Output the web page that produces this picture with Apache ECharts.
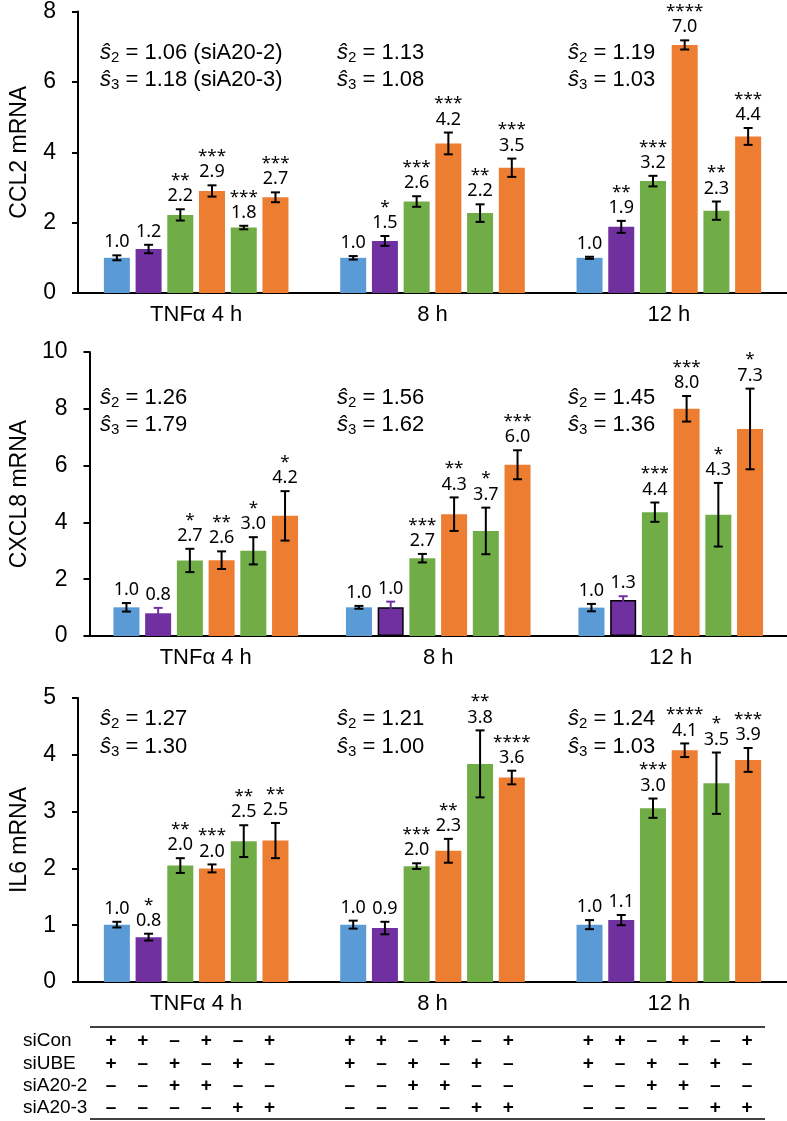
<!DOCTYPE html>
<html>
<head>
<meta charset="utf-8">
<script src="https://cdn.jsdelivr.net/npm/echarts@6/dist/echarts.min.js"></script>
<style>
  html, body { margin: 0; padding: 0; background: #fff; }
  #chart { width: 787px; height: 1121px; }
</style>
</head>
<body>
<div id="chart"></div>
<script>
// categories
const groups = ["TNFα 4 h", "8 h", "12 h"];
const conditions = ["siCon+siUBE", "siCon", "siUBE+siA20-2", "siCon+siA20-2", "siUBE+siA20-3", "siCon+siA20-3"];
const tableRows = ["siCon", "siUBE", "siA20-2", "siA20-3"];
const tableSigns = [
  ["+", "+", "–", "+", "–", "+"],
  ["+", "–", "+", "–", "+", "–"],
  ["–", "–", "+", "+", "–", "–"],
  ["–", "–", "–", "–", "+", "+"],
];

// CCL2 (rows = time point, cols = condition)
const ccl2Mean = [
  [1.00, 1.25, 2.22, 2.90, 1.86, 2.72],
  [1.00, 1.48, 2.60, 4.25, 2.27, 3.56],
  [1.00, 1.88, 3.18, 7.05, 2.34, 4.45],
];
const ccl2Err = [
  [0.07, 0.12, 0.16, 0.16, 0.05, 0.14],
  [0.05, 0.14, 0.15, 0.31, 0.25, 0.26],
  [0.03, 0.17, 0.15, 0.13, 0.26, 0.24],
];
const ccl2Text = [
  ["1.0", "1.2", "2.2", "2.9", "1.8", "2.7"],
  ["1.0", "1.5", "2.6", "4.2", "2.2", "3.5"],
  ["1.0", "1.9", "3.2", "7.0", "2.3", "4.4"],
];
const ccl2Stars = [
  ["", "", "**", "***", "***", "***"],
  ["", "*", "***", "***", "**", "***"],
  ["", "**", "***", "****", "**", "***"],
];
const ccl2S2 = ["1.06 (siA20-2)", "1.13", "1.19"];
const ccl2S3 = ["1.18 (siA20-3)", "1.08", "1.03"];

// CXCL8
const cxcl8Mean = [
  [1.01, 0.80, 2.66, 2.67, 3.00, 4.23],
  [1.01, 1.01, 2.74, 4.29, 3.70, 6.03],
  [1.00, 1.27, 4.36, 8.00, 4.27, 7.29],
];
const cxcl8Err = [
  [0.15, 0.19, 0.41, 0.31, 0.48, 0.87],
  [0.05, 0.20, 0.15, 0.59, 0.82, 0.51],
  [0.13, 0.13, 0.34, 0.45, 1.12, 1.42],
];
const cxcl8Text = [
  ["1.0", "0.8", "2.7", "2.6", "3.0", "4.2"],
  ["1.0", "1.0", "2.7", "4.3", "3.7", "6.0"],
  ["1.0", "1.3", "4.4", "8.0", "4.3", "7.3"],
];
const cxcl8Stars = [
  ["", "", "*", "**", "*", "*"],
  ["", "", "***", "**", "*", "***"],
  ["", "", "***", "***", "*", "*"],
];
const cxcl8S2 = ["1.26", "1.56", "1.45"];
const cxcl8S3 = ["1.79", "1.62", "1.36"];

// IL6
const il6Mean = [
  [1.01, 0.79, 2.05, 2.00, 2.48, 2.49],
  [1.01, 0.95, 2.04, 2.31, 3.84, 3.60],
  [1.01, 1.09, 3.06, 4.08, 3.50, 3.91],
];
const il6Err = [
  [0.05, 0.06, 0.13, 0.07, 0.28, 0.31],
  [0.07, 0.11, 0.05, 0.21, 0.59, 0.12],
  [0.08, 0.09, 0.17, 0.12, 0.54, 0.21],
];
const il6Text = [
  ["1.0", "0.8", "2.0", "2.0", "2.5", "2.5"],
  ["1.0", "0.9", "2.0", "2.3", "3.8", "3.6"],
  ["1.0", "1.1", "3.0", "4.1", "3.5", "3.9"],
];
const il6Stars = [
  ["", "*", "**", "***", "**", "**"],
  ["", "", "***", "**", "**", "****"],
  ["", "", "***", "****", "*", "***"],
];
const il6S2 = ["1.27", "1.21", "1.24"];
const il6S3 = ["1.30", "1.00", "1.03"];

const colors = ["#5B9BD5", "#7030A0", "#70AD47", "#ED7D31", "#70AD47", "#ED7D31"];
const barW = 26;
const step = barW * 1.22;

const panels = [
  { name: "CCL2 mRNA", mean: ccl2Mean, err: ccl2Err, text: ccl2Text, stars: ccl2Stars, s2: ccl2S2, s3: ccl2S3,
    top: 10, height: 283, max: 8, interval: 2, annY: [53, 80],
    gray: ["1-0", "1-1", "2-0", "2-1"], outlined: [], purpleErr: false },
  { name: "CXCL8 mRNA", mean: cxcl8Mean, err: cxcl8Err, text: cxcl8Text, stars: cxcl8Stars, s2: cxcl8S2, s3: cxcl8S3,
    top: 352, height: 284, max: 10, interval: 2, annY: [398, 425],
    gray: [], outlined: ["1-1", "2-1"], purpleErr: true },
  { name: "IL6 mRNA", mean: il6Mean, err: il6Err, text: il6Text, stars: il6Stars, s2: il6S2, s3: il6S3,
    top: 698, height: 284, max: 5, interval: 1, annY: [719, 747],
    gray: [], outlined: [], purpleErr: false },
];
const annX = [100, 337, 568];

const labelRich = {
  st: { fontFamily: "Noto Sans", fontSize: 17, lineHeight: 12, color: "#000" },
  v: { fontFamily: "Noto Sans", fontSize: 18, lineHeight: 20, color: "#000" },
  vg: { fontFamily: "Noto Sans", fontSize: 18, lineHeight: 20, color: "#7f7f7f" },
};
const annRich = {
  s: { fontFamily: "Liberation Sans", fontSize: 22, fontStyle: "italic", color: "#000", lineHeight: 24 },
  sub: { fontFamily: "Liberation Sans", fontSize: 15, color: "#000", lineHeight: 16, padding: [10, 0, 0, 0] },
  t: { fontFamily: "Liberation Sans", fontSize: 22, color: "#000", lineHeight: 24 },
};

const grids = [], xAxes = [], yAxes = [], series = [], graphics = [];

panels.forEach((p, pi) => {
  grids.push({ left: 71, right: 0, top: p.top, height: p.height });
  xAxes.push({
    type: "category", gridIndex: pi, data: groups,
    axisLine: { lineStyle: { color: "#000", width: 2 } },
    axisTick: { show: false },
    axisLabel: { color: "#000", fontFamily: "Liberation Sans", fontSize: 22, margin: 11 },
  });
  yAxes.push({
    type: "value", gridIndex: pi, min: 0, max: p.max, interval: p.interval,
    name: p.name, nameLocation: "middle", nameRotate: 90, nameGap: 47,
    nameTextStyle: { color: "#000", fontFamily: "Liberation Sans", fontSize: 23 },
    axisLine: { show: true, lineStyle: { color: "#000", width: 2 } },
    axisTick: { show: true, length: 6, lineStyle: { color: "#000", width: 2 } },
    axisLabel: { color: "#000", fontFamily: "Liberation Sans", fontSize: 23, margin: 22 },
    splitLine: { show: false },
  });

  conditions.forEach((c, ci) => {
    series.push({
      type: "bar", name: c, xAxisIndex: pi, yAxisIndex: pi,
      barWidth: barW, barGap: "22%",
      itemStyle: { color: colors[ci] },
      data: p.mean.map((row, gi) => {
        const item = { value: row[ci] };
        if (p.outlined.includes(gi + "-" + ci)) {
          item.itemStyle = { borderColor: "#000", borderWidth: 1.5 };
        }
        return item;
      }),
    });
  });

  const errData = [];
  p.mean.forEach((row, gi) => row.forEach((m, ci) => {
    errData.push([gi, ci, m, m - p.err[gi][ci], m + p.err[gi][ci]]);
  }));
  series.push({
    type: "custom", xAxisIndex: pi, yAxisIndex: pi, z: 5, silent: true,
    data: errData,
    renderItem: (params, api) => {
      const gi = api.value(0), ci = api.value(1);
      const cx = api.coord([gi, 0])[0] + (ci - 2.5) * step;
      const yLo = api.coord([gi, api.value(3)])[1];
      const yHi = api.coord([gi, api.value(4)])[1];
      const col = p.purpleErr && ci === 1 ? "#7030A0" : "#000";
      const ls = { stroke: col, lineWidth: 2 };
      const key = gi + "-" + ci;
      const st = p.stars[gi][ci];
      const vTag = p.gray.includes(key) ? "vg" : "v";
      const txt = (st ? "{st|" + st + "}\n" : "") + "{" + vTag + "|" + p.text[gi][ci] + "}";
      return {
        type: "group",
        children: [
          { type: "line", shape: { x1: cx, y1: yLo, x2: cx, y2: yHi }, style: ls },
          { type: "line", shape: { x1: cx - 4.5, y1: yLo, x2: cx + 4.5, y2: yLo }, style: ls },
          { type: "line", shape: { x1: cx - 4.5, y1: yHi, x2: cx + 4.5, y2: yHi }, style: ls },
          { type: "text", x: cx, y: yHi - 3,
            style: { text: txt, rich: labelRich, align: "center", verticalAlign: "bottom" } },
        ],
      };
    },
  });

  p.s2.forEach((v, gi) => {
    graphics.push({ type: "text", x: annX[gi], y: p.annY[0],
      style: { text: "{s|ŝ}{sub|2}{t| = " + v + "}", rich: annRich, verticalAlign: "middle" } });
    graphics.push({ type: "text", x: annX[gi], y: p.annY[1],
      style: { text: "{s|ŝ}{sub|3}{t| = " + p.s3[gi] + "}", rich: annRich, verticalAlign: "middle" } });
  });
});

// condition table under the panels
grids.push({ left: 71, right: 0, top: 1030, height: 89 });
xAxes.push({ type: "category", gridIndex: 3, data: groups, show: false });
yAxes.push({
  type: "category", gridIndex: 3, data: tableRows, inverse: true,
  axisLine: { show: false }, axisTick: { show: false }, splitLine: { show: false },
  axisLabel: { interval: 0, color: "#000", fontFamily: "Liberation Sans", fontSize: 19, align: "left", margin: 48 },
});
const tableData = [];
groups.forEach((g, gi) => tableRows.forEach((r, ri) => conditions.forEach((c, ci) => {
  tableData.push([gi, ri, ci]);
})));
series.push({
  type: "custom", xAxisIndex: 3, yAxisIndex: 3, silent: true,
  data: tableData,
  renderItem: (params, api) => {
    const gi = api.value(0), ri = api.value(1), ci = api.value(2);
    const pt = api.coord([gi, ri]);
    return {
      type: "text", x: pt[0] + (ci - 2.5) * step, y: pt[1],
      style: { text: tableSigns[ri][ci], fill: "#000", font: "bold 19px 'Liberation Sans'",
               align: "center", verticalAlign: "middle" },
    };
  },
});
graphics.push({ type: "line", shape: { x1: 90, y1: 1027, x2: 765, y2: 1027 }, style: { stroke: "#000", lineWidth: 1.5 } });
graphics.push({ type: "line", shape: { x1: 90, y1: 1119, x2: 765, y2: 1119 }, style: { stroke: "#000", lineWidth: 1.5 } });

const chart = echarts.init(document.getElementById("chart"));
chart.setOption({
  animation: false,
  backgroundColor: "#fff",
  grid: grids,
  xAxis: xAxes,
  yAxis: yAxes,
  series: series,
  graphic: graphics,
});
</script>
</body>
</html>
